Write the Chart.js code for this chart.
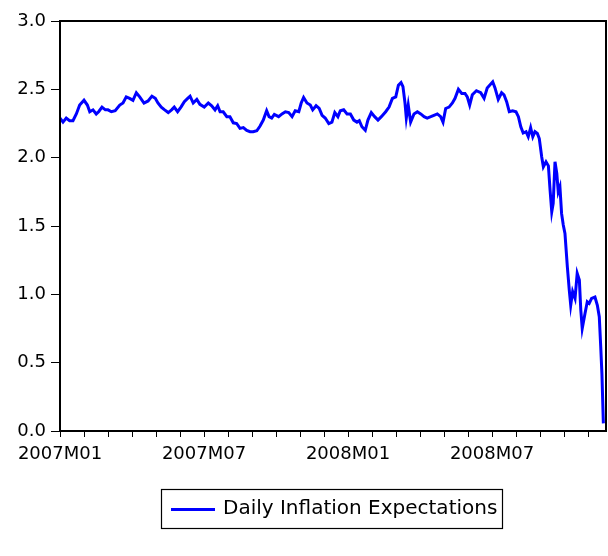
<!DOCTYPE html>
<html>
<head>
<meta charset="utf-8">
<script src="https://cdn.jsdelivr.net/npm/chart.js@4/dist/chart.umd.min.js"></script>
<style>
  html, body { margin: 0; padding: 0; background: #ffffff; }
  #wrap { width: 608px; height: 556px; }
</style>
</head>
<body>
<div id="wrap"><canvas id="c" width="608" height="556"></canvas></div>
<script>
const obsMonth = [0,0.125,0.26,0.40,0.54,0.68,0.82,1.00,1.14,1.24,1.375,1.51,1.61,1.75,1.89,2.00,2.14,2.30,2.49,2.625,2.76,2.90,3.04,3.18,3.32,3.50,3.67,3.83,3.97,4.08,4.22,4.36,4.51,4.65,4.76,4.90,5.04,5.18,5.32,5.42,5.55,5.70,5.83,6.01,6.18,6.32,6.46,6.57,6.67,6.80,6.95,7.08,7.22,7.36,7.50,7.64,7.78,7.92,8.05,8.20,8.33,8.47,8.61,8.71,8.82,8.93,9.11,9.25,9.39,9.53,9.67,9.80,9.95,10.05,10.15,10.29,10.43,10.53,10.67,10.80,10.92,11.05,11.20,11.33,11.45,11.58,11.68,11.82,11.96,12.10,12.24,12.375,12.47,12.58,12.72,12.83,12.97,13.11,13.25,13.39,13.57,13.71,13.85,13.99,14.10,14.21,14.29,14.375,14.43,14.51,14.61,14.75,14.89,15.03,15.17,15.30,15.45,15.58,15.72,15.86,15.96,16.07,16.21,16.35,16.46,16.60,16.74,16.875,16.97,17.07,17.18,17.35,17.53,17.67,17.80,18.03,18.125,18.26,18.40,18.50,18.61,18.72,18.86,19.00,19.10,19.20,19.30,19.42,19.51,19.61,19.70,19.79,19.89,19.97,20.07,20.14,20.25,20.35,20.42,20.49,20.55,20.625,20.70,20.76,20.83,20.90,20.97,21.04,21.14,21.22,21.28,21.36,21.46,21.55,21.64,21.70,21.76,21.875,21.97,22.05,22.15,22.29,22.39,22.47,22.53,22.58,22.64];

// Daily Inflation Expectations values
const inflationExp = [2.29,2.26,2.29,2.27,2.27,2.32,2.385,2.42,2.385,2.336,2.35,2.32,2.336,2.37,2.35,2.35,2.336,2.343,2.385,2.40,2.445,2.434,2.42,2.475,2.445,2.40,2.415,2.45,2.434,2.40,2.37,2.35,2.33,2.35,2.37,2.336,2.37,2.41,2.434,2.45,2.40,2.426,2.39,2.37,2.40,2.38,2.35,2.38,2.336,2.336,2.30,2.30,2.255,2.25,2.214,2.22,2.20,2.19,2.19,2.197,2.23,2.275,2.343,2.30,2.29,2.317,2.30,2.32,2.336,2.33,2.30,2.343,2.336,2.40,2.44,2.40,2.385,2.35,2.38,2.36,2.31,2.29,2.25,2.26,2.33,2.30,2.343,2.35,2.32,2.32,2.275,2.26,2.27,2.226,2.20,2.275,2.33,2.30,2.275,2.30,2.336,2.37,2.434,2.445,2.53,2.55,2.52,2.40,2.29,2.385,2.26,2.32,2.336,2.32,2.30,2.29,2.30,2.31,2.32,2.30,2.26,2.36,2.37,2.40,2.434,2.50,2.47,2.47,2.445,2.385,2.46,2.49,2.475,2.434,2.51,2.555,2.51,2.426,2.475,2.46,2.41,2.336,2.343,2.336,2.30,2.226,2.18,2.19,2.153,2.22,2.153,2.19,2.177,2.14,2.007,1.933,1.97,1.94,1.763,1.604,1.666,1.97,1.885,1.75,1.787,1.59,1.507,1.446,1.20,1.03,0.92,1.02,0.97,1.154,1.105,0.885,0.75,0.86,0.946,0.934,0.97,0.98,0.92,0.836,0.617,0.42,0.056];

// Axis tick labels
const xLabelMonths = [0, 6, 12, 18];
const xLabelTexts = ['2007M01', '2007M07', '2008M01', '2008M07'];
const seriesName = 'Daily Inflation Expectations';

const points = obsMonth.map((m, i) => ({ x: m, y: inflationExp[i] }));

const FONT = { family: '"DejaVu Sans", sans-serif', size: 18 };

const framePlugin = {
  id: 'frameAndLegend',
  afterDraw(chart) {
    const ctx = chart.ctx;
    const a = chart.chartArea;
    ctx.save();
    ctx.strokeStyle = '#000000';
    ctx.lineWidth = 2;
    ctx.strokeRect(a.left, a.top, a.right - a.left, a.bottom - a.top);
    // legend box
    const bx = 161.5, by = 489.5, bw = 341, bh = 39;
    ctx.lineWidth = 1.2;
    ctx.strokeRect(bx, by, bw, bh);
    const ds = chart.data.datasets[0];
    ctx.strokeStyle = ds.borderColor;
    ctx.lineWidth = 3;
    ctx.beginPath();
    ctx.moveTo(171, 509.5);
    ctx.lineTo(215, 509.5);
    ctx.stroke();
    ctx.fillStyle = '#000000';
    ctx.font = '20px "DejaVu Sans", sans-serif';
    ctx.textBaseline = 'middle';
    ctx.textAlign = 'left';
    ctx.fillText(ds.label, 223, 509);
    ctx.restore();
  }
};

new Chart(document.getElementById('c'), {
  type: 'line',
  data: {
    datasets: [{
      label: seriesName,
      data: points,
      borderColor: '#0000ff',
      backgroundColor: '#0000ff',
      borderWidth: 3,
      pointRadius: 0,
      tension: 0,
      fill: false
    }]
  },
  options: {
    responsive: false,
    animation: false,
    events: [],
    layout: { padding: { top: 21, right: 2, left: 0, bottom: 0 } },
    plugins: {
      legend: { display: false },
      tooltip: { enabled: false }
    },
    scales: {
      x: {
        type: 'linear',
        min: 0,
        max: 22.75,
        afterFit: s => { s.height = 125; },
        border: { display: true, color: '#000000', width: 2 },
        grid: {
          display: true,
          drawOnChartArea: false,
          drawTicks: true,
          tickLength: 6,
          tickWidth: 1,
          tickColor: '#000000'
        },
        ticks: {
          stepSize: 1,
          autoSkip: false,
          includeBounds: false,
          maxRotation: 0,
          minRotation: 0,
          padding: 7,
          color: '#000000',
          font: FONT,
          callback: v => {
            const i = xLabelMonths.indexOf(v);
            return i >= 0 ? xLabelTexts[i] : '';
          }
        }
      },
      y: {
        min: 0,
        max: 3,
        afterFit: s => { s.width = 60; },
        border: { display: true, color: '#000000', width: 2 },
        grid: {
          display: true,
          drawOnChartArea: false,
          drawTicks: true,
          tickLength: 9,
          tickWidth: 1,
          tickColor: '#000000'
        },
        ticks: {
          stepSize: 0.5,
          padding: 5,
          color: '#000000',
          font: FONT,
          callback: v => v.toFixed(1)
        }
      }
    }
  },
  plugins: [framePlugin]
});
</script>
</body>
</html>
